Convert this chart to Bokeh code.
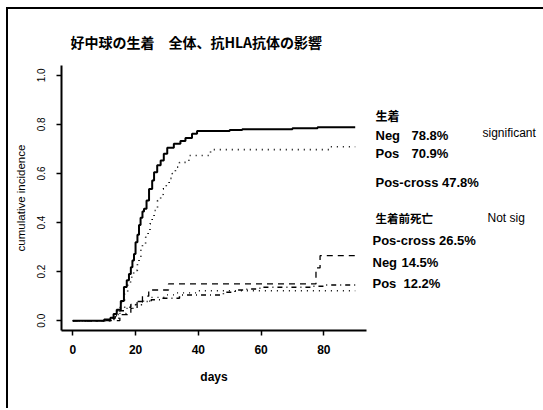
from bokeh.plotting import figure
from bokeh.layouts import row, column
from bokeh.models import Label, Range1d, FixedTicker, Spacer
from bokeh.embed import file_html
from bokeh.resources import INLINE

title_text = "好中球の生着　全体、抗HLA抗体の影響"
x_label = "days"
y_label = "cumulative incidence"
x_ticks = [0, 20, 40, 60, 80]
y_ticks = [0.0, 0.2, 0.4, 0.6, 0.8, 1.0]
y_tick_labels = ["0.0", "0.2", "0.4", "0.6", "0.8", "1.0"]

# 生着 (engraftment) Neg
neg_eng_days = [0, 10, 12, 13, 14, 15.3, 16.3, 17.2, 17.9, 18.5, 19, 19.5, 20, 20.6, 21.1, 21.6,
                22.2, 22.7, 23.5, 24.3, 25.3, 25.9, 26.9, 28, 29, 30.1, 32.2, 34.3, 35.9, 38,
                39.6, 50, 54, 70, 78, 90]
neg_eng_vals = [0, 0.005, 0.012, 0.027, 0.045, 0.08, 0.137, 0.165, 0.19, 0.218, 0.245, 0.272, 0.32,
                0.35, 0.39, 0.42, 0.445, 0.456, 0.49, 0.537, 0.571, 0.605, 0.633, 0.653, 0.68, 0.705,
                0.721, 0.732, 0.745, 0.762, 0.773, 0.777, 0.78, 0.784, 0.788, 0.788]
# 生着 Pos
pos_eng_days = [0, 12, 13.5, 14.3, 15.5, 16.5, 17.5, 18.4, 19.4, 20.6, 21.1, 21.7, 22.2, 23.2, 24,
                24.6, 25.3, 25.9, 27, 28, 28.8, 29.8, 30.7, 31.7, 32.7, 34, 37, 43.9, 82, 90]
pos_eng_vals = [0, 0.005, 0.02, 0.054, 0.08, 0.11, 0.145, 0.177, 0.205, 0.233, 0.26, 0.29, 0.31,
                0.34, 0.367, 0.395, 0.42, 0.449, 0.49, 0.514, 0.537, 0.56, 0.58, 0.60, 0.626, 0.645,
                0.673, 0.697, 0.709, 0.709]
# 生着前死亡 Neg
neg_death_days = [0, 12, 13.5, 15, 16.5, 18.5, 20.3, 25, 28, 34, 48, 51.7, 55.5, 58.7, 60.5, 76.5, 80.5, 90]
neg_death_vals = [0, 0.01, 0.025, 0.04, 0.055, 0.066, 0.078, 0.085, 0.091, 0.105, 0.116, 0.125,
                  0.129, 0.132, 0.136, 0.14, 0.145, 0.145]
# 生着前死亡 Pos-cross
pc_death_days = [0, 15, 18.5, 20.5, 22.2, 24.2, 30.5, 77.5, 78.8, 90]
pc_death_vals = [0, 0.025, 0.05, 0.075, 0.10, 0.125, 0.15, 0.215, 0.265, 0.265]
# 生着前死亡 Pos
pos_death_days = [0, 13, 15, 17, 19.5, 22, 25, 29, 33, 40, 90]
pos_death_vals = [0, 0.01, 0.03, 0.05, 0.065, 0.08, 0.095, 0.105, 0.113, 0.122, 0.122]

# annotation texts
eng_head = "生着"
eng_rows = [("Neg", "78.8%"), ("Pos", "70.9%")]
eng_note = "significant"
eng_cross = "Pos-cross 47.8%"
death_head = "生着前死亡"
death_note = "Not sig"
death_cross = "Pos-cross 26.5%"
death_rows = [("Neg", "14.5%"), ("Pos", "12.2%")]

# layout (page pixels)
BX, BY, BW = 6, 7, 2                # page border position and thickness
OX, OY = BX + BW, BY + BW           # canvas origin
PAGE_W = 543
W1, W2, H = 360, 182, 399           # text panel runs a little past the page edge (clipped)
FL, FR, FT, FB = 61, 366, 65, 330   # frame edges in page pixels

p = figure(width=W1, height=H, output_backend="svg", toolbar_location=None,
           x_range=Range1d(-3.6, 93.6), y_range=Range1d(-0.04, 1.04),
           min_border_left=FL - OX, min_border_right=OX + W1 - FR,
           min_border_top=FT - OY, min_border_bottom=OY + H - FB)
p.outline_line_color = None
p.grid.visible = False
p.background_fill_color = "white"
p.border_fill_color = "white"

p.title.text = title_text
p.title.text_font = "Noto Sans CJK JP"
p.title.text_font_size = "14px"
p.title.text_font_style = "bold"
p.title.text_color = "black"
p.title.align = "left"
p.title.offset = 9
p.title.standoff = 28

p.xaxis.ticker = FixedTicker(ticks=x_ticks)
p.yaxis.ticker = FixedTicker(ticks=y_ticks)
p.yaxis.major_label_overrides = {t: s for t, s in zip(y_ticks, y_tick_labels)}
p.yaxis.major_label_orientation = "vertical"
p.xaxis.axis_label = x_label
p.yaxis.axis_label = y_label

for ax in (p.xaxis[0], p.yaxis[0]):
    ax.axis_line_width = 2
    ax.axis_line_color = "black"
    ax.major_tick_line_color = "black"
    ax.major_tick_line_width = 1.5
    ax.major_tick_out = 5
    ax.major_tick_in = 0
    ax.minor_tick_line_color = None
    ax.major_label_text_color = "black"
    ax.axis_label_text_color = "black"
    ax.major_label_text_font = "Liberation Sans"
    ax.axis_label_text_font = "Liberation Sans"

p.xaxis.major_label_text_font_size = "12px"
p.xaxis.major_label_text_font_style = "bold"
p.xaxis.major_label_standoff = 9
p.xaxis.axis_label_text_font_size = "12px"
p.xaxis.axis_label_text_font_style = "bold"
p.xaxis.axis_label_standoff = 13

p.yaxis.major_label_text_font_size = "10px"
p.yaxis.major_label_standoff = 11
p.yaxis.axis_label_text_font_size = "11.5px"
p.yaxis.axis_label_text_font_style = "normal"
p.yaxis.axis_label_standoff = 8

p.step(neg_eng_days, neg_eng_vals, mode="after", line_color="black", line_width=2)
p.step(pos_eng_days, pos_eng_vals, mode="after", line_color="black", line_width=1.6, line_dash="1 5")
p.step(neg_death_days, neg_death_vals, mode="after", line_color="black", line_width=1.5, line_dash="5 4 1 4")
p.step(pc_death_days, pc_death_vals, mode="after", line_color="black", line_width=1.3, line_dash="6 5")
p.step(pos_death_days, pos_death_vals, mode="after", line_color="black", line_width=1.3, line_dash="1 5")

# text panel on the right: its frame is aligned with the plot frame; data units = page pixels
TX0 = OX + W1   # page x of text panel left edge
t = figure(width=W2, height=H, output_backend="svg", toolbar_location=None,
           x_range=Range1d(TX0, TX0 + W2), y_range=Range1d(FB, FT),
           x_axis_type=None, y_axis_type=None,
           min_border_left=0, min_border_right=0,
           min_border_top=FT - OY, min_border_bottom=OY + H - FB)
t.outline_line_color = None
t.grid.visible = False
t.background_fill_color = "white"
t.border_fill_color = "white"


def add_text(txt, px, py, size="13px", bold=True, font="Liberation Sans"):
    t.add_layout(Label(x=px, y=py, text=txt,
                       text_font=font, text_font_size=size,
                       text_font_style="bold" if bold else "normal",
                       text_color="black", text_align="left", text_baseline="middle"))


CJK = "Noto Sans CJK JP"
add_text(eng_head, 375, 115, "12px", True, CJK)
add_text(eng_rows[0][0], 375, 135)
add_text(eng_rows[0][1], 411, 135)
add_text(eng_note, 482, 132, "12px", False)
add_text(eng_rows[1][0], 375, 153)
add_text(eng_rows[1][1], 411, 153)
add_text(eng_cross, 375, 182)
add_text(death_head, 375, 217, "11.5px", True, CJK)
add_text(death_note, 487, 217, "12px", False)
add_text(death_cross, 372, 240)
add_text(death_rows[0][0], 372, 262)
add_text(death_rows[0][1], 401, 262)
add_text(death_rows[1][0], 372, 283)
add_text(death_rows[1][1], 403, 283)

# page border: black strips along the top and left
top_bar = Spacer(width=PAGE_W - BX, height=BW, styles={"background-color": "#000"})
left_bar = Spacer(width=BW, height=H, styles={"background-color": "#000"})

inner = row(left_bar, p, t, spacing=0, styles={"overflow": "hidden"},
            width=PAGE_W - BX, height=H)
layout = column(top_bar, inner, spacing=0, margin=(BY, 0, 0, BX),
                width=PAGE_W - BX, height=BW + H, styles={"overflow": "hidden"})

open("out.html", "w").write(file_html(layout, INLINE))
